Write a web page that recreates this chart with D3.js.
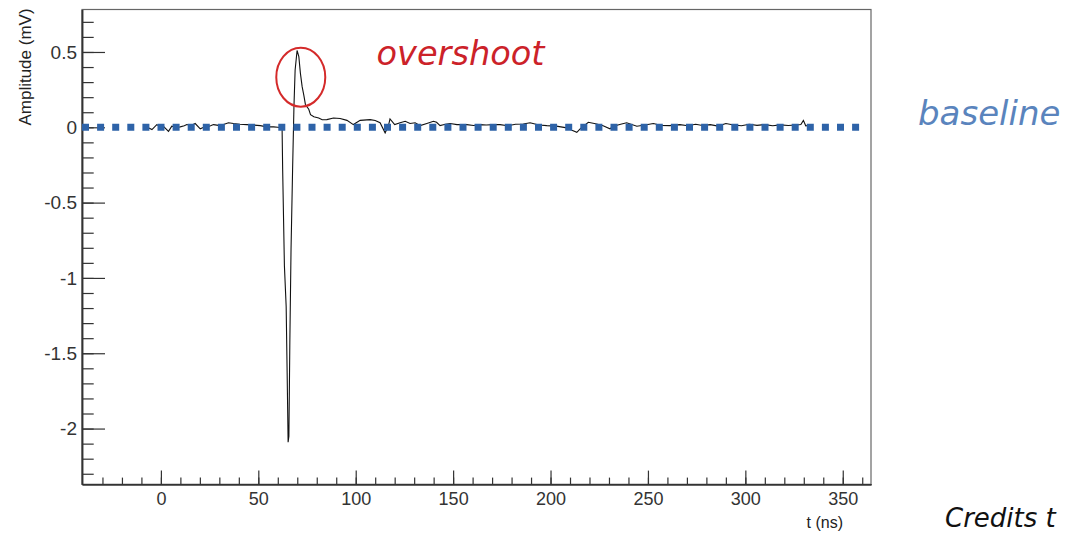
<!DOCTYPE html>
<html><head><meta charset="utf-8">
<script src="https://cdn.jsdelivr.net/npm/d3@7"></script>
<style>body{margin:0;background:#fff;overflow:hidden;} svg{display:block;}</style>
</head><body><svg id="c" width="1067" height="535"></svg>
<script>
// ---- data ----
const time = [
 -7.0,-4.6,-2.1,-0.5,1.3,3.9,5.6,8.0,9.9,12.0,13.3,15.5,17.6,20.2,22.0,23.6,25.5,27.0,30.4,32.5,34.7,37.3,40.5,44.1,47.5,51.0,54.4,57.8,60.0,61.5,62.2,
 62.5,63.4,64.3,64.8,65.3,65.7,66.2,66.8,67.6,68.3,68.9,69.9,70.8,71.6,72.5,73.4,74.2,75.9,76.8,78.5,81.0,82.8,85.2,88.6,92.0,95.5,98.8,102.3,107.4,110.0,
 112.5,115.1,116.8,117.6,120.0,122.8,125.4,127.9,130.5,133.1,136.5,139.9,141.5,143.3,146.0,148.5,152.0,157.0,160.5,163.9,167.0,170.7,174.1,178.0,182.0,186.0,
 189.5,194.0,198.1,203.0,208.4,211.0,213.5,215.2,219.4,223.7,227.0,230.5,232.3,236.0,239.1,244.3,248.5,252.8,257.0,261.2,266.4,270.5,274.5,278.0,282.0,286.0,
 290.0,294.0,298.0,302.0,306.0,310.0,314.0,318.0,322.0,326.0,328.5,329.8,331.0,332.5];
const amplitude = [
 0.0,-0.015,0.018,0.005,0.007,-0.027,0.007,0.0,0.003,0.01,0.018,0.012,0.025,-0.01,0.0,0.003,0.01,0.018,0.011,0.02,0.03,0.025,0.02,0.018,0.015,0.011,0.003,0.003,0.0,-0.004,0.0,
 -0.28,-0.92,-1.19,-1.63,-2.09,-2.05,-1.41,-0.81,-0.28,0.14,0.38,0.51,0.47,0.36,0.27,0.21,0.15,0.12,0.084,0.07,0.062,0.05,0.051,0.062,0.058,0.046,0.018,0.046,0.051,0.045,
 0.03,-0.037,0.011,0.056,0.018,0.03,0.04,0.025,0.03,0.011,0.025,0.04,0.033,0.011,0.02,0.025,0.018,0.018,0.012,0.018,0.015,0.018,0.018,0.01,0.02,0.022,
 0.03,0.015,0.011,0.008,-0.004,-0.02,-0.033,-0.01,0.033,0.022,0.01,-0.01,0.007,0.02,0.03,0.007,0.015,0.025,0.012,0.011,0.018,0.01,0.02,0.012,0.018,0.008,
 0.025,0.015,0.01,0.02,0.013,0.018,0.01,0.016,0.012,0.015,0.018,0.046,0.01,0.012];
const xTickValues = [0,50,100,150,200,250,300,350];
const xTickLabels = ["0","50","100","150","200","250","300","350"];
const yTickValues = [-2,-1.5,-1,-0.5,0,0.5];
const yTickLabels = ["-2","-1.5","-1","-0.5","0","0.5"];
const baselineValue = 0;
const overshootCenter = {t: 71.8, v: 0.333};

// ---- layout ----
const svg = d3.select("#c");
const L = 82, R = 871, T = 9.5, B = 484.3;
const x = d3.scaleLinear().domain([-40.5, 364.5]).range([L, R]);
const y = d3.scaleLinear().domain([-2.37, 0.782]).range([B, T]);
const axisColor = "#333";
const font = "'Liberation Sans', Arial, Helvetica, sans-serif";

// frame
svg.append("rect").attr("x", L).attr("y", T).attr("width", R - L).attr("height", B - T)
  .attr("fill", "none").attr("stroke", "#666").attr("stroke-width", 1.2);

// x axis
const gx = svg.append("g").attr("transform", `translate(0,${B})`);
gx.call(d3.axisBottom(x).tickValues(d3.range(-30, 361, 10)).tickSize(-6.7).tickSizeOuter(0).tickFormat(""));
const gx2 = svg.append("g").attr("transform", `translate(0,${B})`);
gx2.call(d3.axisBottom(x).tickValues(xTickValues).tickSize(-13.7).tickSizeOuter(0).tickPadding(8)
  .tickFormat((d, i) => xTickLabels[i]));
[gx, gx2].forEach(g => {
  g.select(".domain").attr("stroke", axisColor).attr("stroke-width", 1.5);
  g.selectAll(".tick line").attr("stroke", axisColor).attr("stroke-width", 1.2);
  g.selectAll("text").attr("font-family", font).attr("font-size", 18).attr("fill", "#333");
});

// y axis
const gy = svg.append("g").attr("transform", `translate(${L},0)`);
gy.call(d3.axisLeft(y).tickValues(d3.range(-23, 8, 1).map(v => v / 10)).tickSize(-11.7).tickSizeOuter(0).tickFormat(""));
const gy2 = svg.append("g").attr("transform", `translate(${L},0)`);
gy2.call(d3.axisLeft(y).tickValues(yTickValues).tickSize(-23).tickSizeOuter(0).tickPadding(5)
  .tickFormat((d, i) => yTickLabels[i]));
[gy, gy2].forEach(g => {
  g.select(".domain").attr("stroke", axisColor).attr("stroke-width", 1.5);
  g.selectAll(".tick line").attr("stroke", axisColor).attr("stroke-width", 1.2);
  g.selectAll("text").attr("font-family", font).attr("font-size", 19).attr("fill", "#333");
});

// axis titles
svg.append("text").attr("x", 843).attr("y", 528).attr("text-anchor", "end")
  .attr("font-family", font).attr("font-size", 16).attr("fill", "#222").text("t (ns)");
svg.append("text").attr("transform", "translate(31,67) rotate(-90)").attr("text-anchor", "middle")
  .attr("font-family", font).attr("font-size", 17).attr("fill", "#222").text("Amplitude (mV)");

// waveform
const pts = time.map((t, i) => [t, amplitude[i]]);
svg.append("path").datum(pts)
  .attr("d", d3.line().x(d => x(d[0])).y(d => y(d[1])))
  .attr("fill", "none").attr("stroke", "#111").attr("stroke-width", 1.1);

// baseline dotted line
svg.append("line").attr("x1", x(-40.5)).attr("x2", x(360.5))
  .attr("y1", y(baselineValue)).attr("y2", y(baselineValue))
  .attr("stroke", "#2e63a8").attr("stroke-width", 7).attr("stroke-dasharray", "7,8.1");

// overshoot ellipse
svg.append("ellipse").attr("cx", x(overshootCenter.t)).attr("cy", y(overshootCenter.v))
  .attr("rx", 24.5).attr("ry", 29.5).attr("fill", "none").attr("stroke", "#d42a2a").attr("stroke-width", 2);

// annotations
const afont = "'DejaVu Sans', Verdana, sans-serif";
svg.append("text").attr("x", 376.5).attr("y", 65).attr("font-family", afont).attr("font-style", "italic")
  .attr("font-size", 34).attr("fill", "#cc2229").attr("textLength", 168).attr("lengthAdjust", "spacingAndGlyphs").text("overshoot");
svg.append("text").attr("x", 918).attr("y", 125).attr("font-family", afont).attr("font-style", "italic")
  .attr("font-size", 34).attr("fill", "#5a84bd").text("baseline");
svg.append("text").attr("x", 945).attr("y", 527).attr("font-family", afont).attr("font-style", "italic")
  .attr("font-size", 26).attr("fill", "#111").text("Credits t");
</script></body></html>
